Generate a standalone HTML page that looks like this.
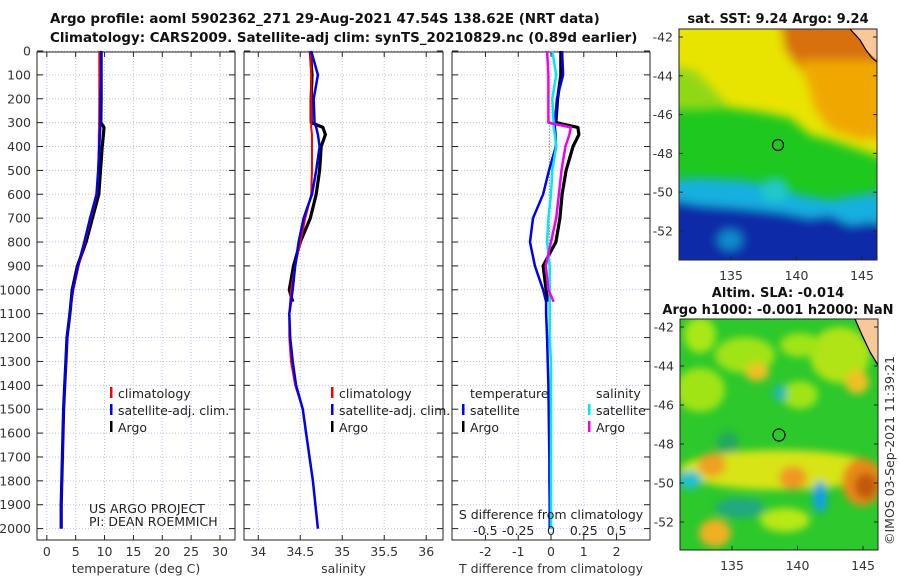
<!DOCTYPE html>
<html><head><meta charset="utf-8">
<style>
body{margin:0;background:#fff;}
svg{display:block;font-family:"DejaVu Sans","Liberation Sans",sans-serif;}
.t{font-size:12.5px;fill:#333;}
.ttl{font-size:13px;font-weight:bold;fill:#111;}
.lg{font-size:12.5px;fill:#222;}
</style></head><body>
<svg id="s" width="900" height="580" viewBox="0 0 900 580" xmlns="http://www.w3.org/2000/svg">
<defs>
<filter id="bl" x="-10%" y="-10%" width="120%" height="120%"><feGaussianBlur stdDeviation="5"/></filter>
<filter id="bl2" x="-20%" y="-20%" width="140%" height="140%"><feGaussianBlur stdDeviation="4"/></filter>
<clipPath id="c1"><rect x="679" y="29" width="198" height="231"/></clipPath>
<clipPath id="c2"><rect x="680" y="319" width="198" height="231"/></clipPath>
</defs>
<text class="ttl" x="50" y="23" style="font-size:13.4px">Argo profile: aoml 5902362_271 29-Aug-2021 47.54S 138.62E (NRT data)</text>
<text class="ttl" x="50" y="42" style="font-size:13.4px">Climatology: CARS2009. Satellite-adj clim: synTS_20210829.nc (0.89d earlier)</text>
<g id="plots"></g>

<!-- SST map -->
<g clip-path="url(#c1)">
<rect x="679" y="29" width="198" height="231" fill="#1ec81e"/>
<g filter="url(#bl)">
<polygon points="670,20 890,20 890,160 860,150 830,140 810,135 790,118 760,112 730,108 700,100 670,95" fill="#e8e400"/>
<polygon points="670,65 695,70 715,90 730,108 700,110 670,110" fill="#90d818"/>
<polygon points="780,20 890,20 890,70 860,95 830,85 800,70 785,50" fill="#d87008"/>
<polygon points="800,60 890,60 890,140 860,140 830,130 815,110" fill="#f0a800"/>
<polygon points="670,180 700,178 740,180 770,185 800,195 830,200 860,195 890,190 890,270 670,270" fill="#18b0e0"/>
<polygon points="670,200 700,205 740,208 780,212 810,218 830,215 850,225 870,222 890,225 890,270 670,270" fill="#0a2aa8"/>
<ellipse cx="775" cy="190" rx="14" ry="12" fill="#20c8c8"/>
<ellipse cx="730" cy="240" rx="12" ry="10" fill="#1090d0"/>
</g>
<polygon points="850,29 877,29 877,60 866,50 860,40" fill="#f8c898"/>
<polyline points="850,29 860,40 866,50 872,58 877,62" fill="none" stroke="#000" stroke-width="1.2"/>
<circle cx="778" cy="145" r="5.5" fill="none" stroke="#000" stroke-width="1.2"/>
</g>
<rect x="679" y="29" width="198" height="231" fill="none" stroke="#222" stroke-width="1"/>
<text class="ttl" x="778" y="23" text-anchor="middle">sat. SST: 9.24 Argo: 9.24</text>

<!-- SLA map -->
<g clip-path="url(#c2)">
<rect x="680" y="319" width="198" height="231" fill="#2cc82c"/>
<g filter="url(#bl2)">
<ellipse cx="700" cy="335" rx="16" ry="18" fill="#a8e818"/>
<ellipse cx="745" cy="355" rx="30" ry="18" fill="#a0e418"/>
<ellipse cx="840" cy="355" rx="30" ry="28" fill="#b0e418"/>
<ellipse cx="800" cy="345" rx="20" ry="12" fill="#a0e418"/>
<ellipse cx="757" cy="372" rx="12" ry="9" fill="#f0c020"/>
<ellipse cx="857" cy="382" rx="12" ry="12" fill="#f0c020"/>
<ellipse cx="700" cy="390" rx="25" ry="22" fill="#a0e418"/>
<ellipse cx="800" cy="395" rx="18" ry="14" fill="#a0e418"/>
<ellipse cx="780" cy="393" rx="7" ry="9" fill="#20b8b0"/>
<ellipse cx="728" cy="445" rx="11" ry="14" fill="#20a860"/>
<ellipse cx="780" cy="470" rx="100" ry="20" fill="#d8e418"/>
<ellipse cx="712" cy="465" rx="14" ry="12" fill="#f0a020"/>
<ellipse cx="793" cy="478" rx="14" ry="12" fill="#f09820"/>
<ellipse cx="862" cy="482" rx="20" ry="24" fill="#e88818"/>
<ellipse cx="866" cy="486" rx="11" ry="13" fill="#c05810"/>
<ellipse cx="820" cy="497" rx="7" ry="16" fill="#10a0e8"/>
<ellipse cx="690" cy="480" rx="12" ry="9" fill="#20c0d0"/>
<ellipse cx="740" cy="508" rx="25" ry="10" fill="#20a880"/>
<ellipse cx="715" cy="533" rx="16" ry="14" fill="#f0b020"/>
<ellipse cx="785" cy="520" rx="25" ry="12" fill="#b8e818"/>
</g>
<polygon points="855,319 878,319 878,365 868,350" fill="#f8c898"/>
<polyline points="855,319 862,335 870,352 878,365" fill="none" stroke="#000" stroke-width="1.2"/>
<circle cx="779" cy="435" r="6" fill="none" stroke="#000" stroke-width="1.2"/>
</g>
<rect x="680" y="319" width="198" height="231" fill="none" stroke="#222" stroke-width="1"/>
<text class="ttl" x="778" y="297" text-anchor="middle">Altim. SLA: -0.014</text>
<text class="ttl" x="778" y="314" text-anchor="middle">Argo h1000: -0.001 h2000: NaN</text>
<text class="t" x="0" y="0" transform="translate(894,545) rotate(-90)">©IMOS 03-Sep-2021 11:39:21</text>
<g id="maps"></g>
</svg>
<script>
// ---- data ----
const depths = [0,100,200,300,320,350,400,500,600,700,800,900,1000,1050,1100,1200,1300,1400,1500,1600,1700,1800,1900,2000];
const tempClim = [9.1,9.1,9.1,9.05,9.05,9.0,9.0,8.9,8.7,7.6,6.6,5.5,4.6,4.3,4.0,3.5,3.3,3.1,2.9,2.8,2.7,2.6,2.5,2.5];
const tempSat  = [9.4,9.4,9.3,9.25,9.25,9.2,9.1,8.9,8.6,7.5,6.5,5.4,4.5,4.2,4.0,3.5,3.3,3.1,2.9,2.8,2.7,2.6,2.5,2.5];
const tempArgo = [9.4,9.4,9.4,9.35,9.9,9.8,9.6,9.3,9.0,7.9,6.8,5.3,4.4,4.2,4.0,3.5,3.3,3.1,2.9,2.8,2.7,2.6,2.5,2.5];
const salClim = [34.62,34.63,34.63,34.63,34.63,34.64,34.64,34.64,34.63,34.56,34.5,34.44,34.39,34.38,34.37,34.37,34.39,34.44,34.53,34.57,34.61,34.65,34.68,34.71];
const salSat  = [34.63,34.71,34.66,34.67,34.69,34.71,34.73,34.69,34.64,34.54,34.48,34.44,34.41,34.39,34.37,34.38,34.41,34.45,34.53,34.57,34.61,34.65,34.68,34.71];
const salArgo = [34.62,34.64,34.63,34.63,34.77,34.8,34.75,34.73,34.69,34.62,34.5,34.42,34.37,34.41,null,null,null,null,null,null,null,null,null,null];
const dTsat  = [0.34,0.37,0.18,0.12,0.12,0.14,0.15,-0.06,-0.24,-0.55,-0.64,-0.49,-0.24,-0.15,-0.15,-0.12,-0.1,-0.08,-0.07,-0.06,-0.05,-0.05,-0.04,-0.04];
const dTargo = [0.3,0.3,0.2,0.15,0.82,0.85,0.67,0.46,0.34,0.27,0.15,-0.24,-0.15,-0.1,null,null,null,null,null,null,null,null,null,null];
const dSsat  = [0.01,0.04,0.01,0.02,0.02,0.03,0.04,0.01,0.0,-0.02,-0.03,-0.01,-0.01,-0.01,-0.01,-0.01,0,0,0,0,0,0,0,0];
const dSargo = [-0.03,-0.02,-0.02,-0.02,0.15,0.14,0.11,0.08,0.06,0.04,0.0,-0.04,-0.02,0.02,null,null,null,null,null,null,null,null,null,null];
const depthTicks = [0,100,200,300,400,500,600,700,800,900,1000,1100,1200,1300,1400,1500,1600,1700,1800,1900,2000];
const tempTicks = [0,5,10,15,20,25,30];
const salTicks = [34,34.5,35,35.5,36];
const salTickLabels = ['34','34.5','35','35.5','36'];
const dTTicks = [-2,-1,0,1,2];
const dSTicks = [-0.5,-0.25,0,0.25,0.5];
const lats = [-42,-44,-46,-48,-50,-52];
const lons = [135,140,145];

const NS='http://www.w3.org/2000/svg';
const G=document.getElementById('plots');
function mk(tag,attrs,parent){const e=document.createElementNS(NS,tag);for(const k in attrs)e.setAttribute(k,attrs[k]);(parent||G).appendChild(e);return e;}
const yD = d => 51 + d*0.2388;
const panels = [
 {x0:37,x1:235,lo:-1.7,hi:32.6,ticks:tempTicks,labels:tempTicks.map(String),title:'temperature (deg C)'},
 {x0:244,x1:443,lo:33.83,hi:36.2,ticks:salTicks,labels:salTickLabels,title:'salinity'},
 {x0:452,x1:650,lo:-3.02,hi:3.02,ticks:dTTicks,labels:dTTicks.map(String),title:'T difference from climatology'}
];
const yTop=52,yBot=540;
panels.forEach((p,i)=>{
  p.sx = v => p.x0 + (v-p.lo)/(p.hi-p.lo)*(p.x1-p.x0);
  const g=mk('g',{});
  
  
  p.ticks.forEach(t=>{
    const x=p.sx(t);
    const l=mk('line',{x1:x,x2:x,y1:yTop,y2:yBot,stroke:'#b8c4f0','stroke-dasharray':'1,2','stroke-width':1},g);
    
    mk('line',{x1:x,x2:x,y1:yBot,y2:yBot-5,stroke:'#222'},g);
    mk('line',{x1:x,x2:x,y1:yTop,y2:yTop+5,stroke:'#222'},g);
  });
  p.ticks.forEach((t,j)=>{
    const tx=mk('text',{x:p.sx(t),y:556,'text-anchor':'middle',class:'t'},g);tx.textContent=p.labels[j];
    
  });
  depthTicks.forEach(d=>{
    const y=yD(d);
    mk('line',{x1:p.x0,x2:p.x1,y1:y,y2:y,stroke:'#b8c4f0','stroke-dasharray':'1,2'},g);
    mk('line',{x1:p.x0,x2:p.x0+6,y1:y,y2:y,stroke:'#222'},g);
    mk('line',{x1:p.x1-6,x2:p.x1,y1:y,y2:y,stroke:'#222'},g);
  });
  mk('rect',{x:p.x0,y:yTop,width:p.x1-p.x0,height:yBot-yTop,fill:'none',stroke:'#222'},g);
  const at=mk('text',{x:(p.x0+p.x1)/2,y:573,'text-anchor':'middle',class:'t'},g);at.textContent=p.title;
  
});
depthTicks.forEach(d=>{
  const t=mk('text',{x:31,y:yD(d)+4.5,'text-anchor':'end',class:'t'});t.textContent=String(d);
  
});
function line(p,vals,col,w,name,scale){
  let pts=[];
  vals.forEach((v,i)=>{if(v!==null)pts.push(p.sx(v*(scale||1)).toFixed(1)+','+yD(depths[i]).toFixed(1));});
  const e=mk('polyline',{points:pts.join(' '),fill:'none',stroke:col,'stroke-width':w,'stroke-linejoin':'round'});
  
  
}
const P=panels;
line(P[0],tempArgo,'#000',3.2,'temp-argo-line');
line(P[0],tempClim,'#f00',2,'temp-climatology-line');
line(P[0],tempSat,'#0000f0',2.5,'temp-satellite-line');
line(P[1],salArgo,'#000',3.2,'sal-argo-line');
line(P[1],salClim,'#f00',2,'sal-climatology-line');
line(P[1],salSat,'#0000f0',2.5,'sal-satellite-line');
mk('line',{x1:P[2].sx(-0.05),x2:P[2].sx(-0.05),y1:yD(300),y2:yD(1000),stroke:'#444','stroke-dasharray':'1,2'});
line(P[2],dTargo,'#000',3.2,'dT-argo-line');
line(P[2],dTsat,'#0000f0',2.5,'dT-satellite-line');
line(P[2],dSsat,'#00e8f0',2.5,'dS-satellite-line',4);
line(P[2],dSargo,'#f000f0',2.5,'dS-argo-line',4);
// legends
function leg(x,y,col,txt,name){
  mk('rect',{x:x,y:y-11,width:2.5,height:11,fill:col});
  const t=mk('text',{x:x+8,y:y,class:'lg'});t.textContent=txt;
  
}
leg(110,398,'#f00','climatology','legend-climatology');
leg(110,415,'#0000f0','satellite-adj. clim.','legend-satellite-adj');
leg(110,432,'#000','Argo','legend-argo');
leg(331,398,'#f00','climatology','legend-climatology-sal');
leg(331,415,'#0000f0','satellite-adj. clim.','legend-satellite-adj-sal');
leg(331,432,'#000','Argo','legend-argo-sal');
let t=mk('text',{x:470,y:398,class:'lg'});t.textContent='temperature';
t=mk('text',{x:596,y:398,class:'lg'});t.textContent='salinity';
leg(462,415,'#0000f0','satellite','legend-dT-satellite');
leg(462,432,'#000','Argo','legend-dT-argo');
leg(588,415,'#00e8f0','satellite','legend-dS-satellite');
leg(588,432,'#f000f0','Argo','legend-dS-argo');
t=mk('text',{x:89,y:513,class:'lg','font-size':'11.5'});t.textContent='US ARGO PROJECT';
t=mk('text',{x:89,y:526,class:'lg','font-size':'11.5'});t.textContent='PI: DEAN ROEMMICH';
t=mk('text',{x:551,y:519,class:'lg','text-anchor':'middle'});t.textContent='S difference from climatology';

dSTicks.forEach(v=>{const e=mk('text',{x:P[2].sx(v*4),y:535,class:'lg','text-anchor':'middle'});e.textContent=String(v);
 });
// map ticks
const M=document.getElementById('maps');
[[29,37,231,260,679,877,280],[319,327,522,550,680,878,570]].forEach(m=>{
  const [top,y42,y52,bot,xl,xr,ly]=m;
  const sy=lat=>y42+(lat+42)/(-10)*(y52-y42);
  lats.forEach(la=>{const y=sy(la);
    mk('line',{x1:xl,x2:xl+4,y1:y,y2:y,stroke:'#222'},M);mk('line',{x1:xr-4,x2:xr,y1:y,y2:y,stroke:'#222'},M);
    const e=mk('text',{x:xl-6,y:y+4.5,'text-anchor':'end',class:'t'},M);e.textContent=String(la);
    });
  lons.forEach(lo=>{const x=(xl+52)+(lo-135)*13.1;
    mk('line',{x1:x,x2:x,y1:bot,y2:bot-4,stroke:'#222'},M);
    const e=mk('text',{x:x,y:ly,'text-anchor':'middle',class:'t'},M);e.textContent=String(lo);
    });
});
</script>
</body></html>
